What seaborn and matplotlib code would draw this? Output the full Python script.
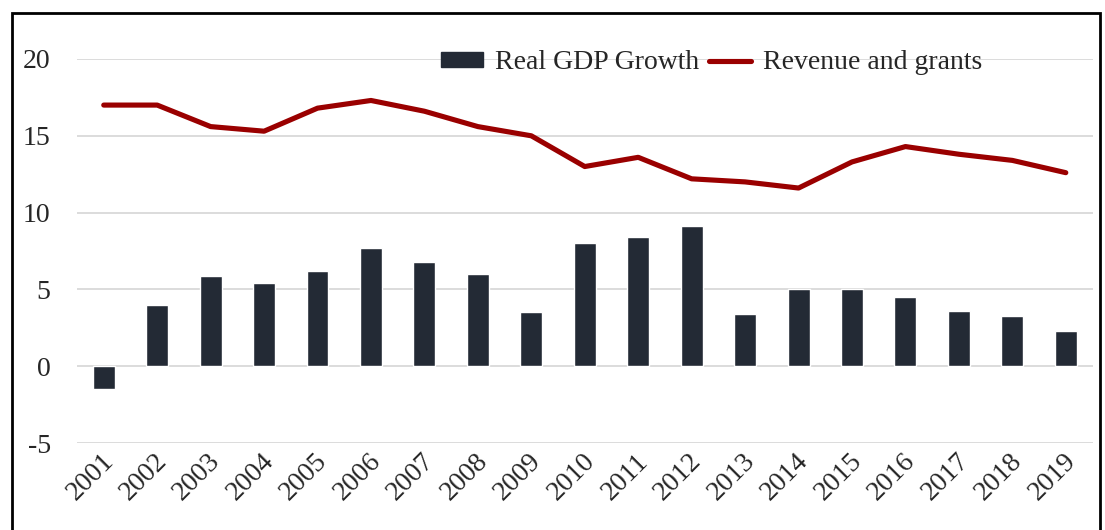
import pandas as pd
import seaborn as sns
import matplotlib.pyplot as plt
from matplotlib.patches import Rectangle, Patch
from matplotlib.lines import Line2D
import matplotlib.transforms as mtransforms

# Chart values
years = [str(y) for y in range(2001, 2020)]
gdp_growth = [-1.5, 4.0, 5.9, 5.4, 6.2, 7.7, 6.8, 6.0, 3.5, 8.0,
              8.4, 9.1, 3.4, 5.0, 5.0, 4.5, 3.6, 3.3, 2.3]
revenue_grants = [17.0, 17.0, 15.6, 15.3, 16.8, 17.3, 16.6, 15.6, 15.0, 13.0,
                  13.6, 12.2, 12.0, 11.6, 13.3, 14.3, 13.8, 13.4, 12.6]
yticks = [-5, 0, 5, 10, 15, 20]

df = pd.DataFrame({"year": years, "gdp": gdp_growth, "rev": revenue_grants})

bar_color = "#232a35"
line_color = "#9a0000"

sns.set_style("white")
plt.rcParams["font.family"] = ["Liberation Serif", "DejaVu Serif"]

fig = plt.figure(figsize=(11.05, 5.3), dpi=100)
ax = fig.add_axes([0.0697, 0.164, 0.919, 0.7247])

sns.barplot(data=df, x="year", y="gdp", color=bar_color, width=0.41,
            saturation=1, ax=ax, zorder=2)
sns.lineplot(data=df, x="year", y="rev", color=line_color, linewidth=3.7,
             ax=ax, zorder=3, solid_capstyle="round", solid_joinstyle="round")

ax.set_xlim(-0.5, len(years) - 0.5)
ax.set_ylim(-5, 20)
ax.set_yticks(yticks)
ax.set_yticklabels([str(t) for t in yticks])
ax.yaxis.grid(True, color="#d9d9d9", linewidth=1.3, zorder=0)
ax.set_axisbelow(True)
for s in ax.spines.values():
    s.set_visible(False)
ax.set_xlabel("")
ax.set_ylabel("")
ax.tick_params(axis="y", length=0, pad=19, labelsize=20)
ax.tick_params(axis="x", length=0, pad=4, labelsize=20)

offset = mtransforms.ScaledTranslation(-2 / 72, 0, fig.dpi_scale_trans)
for lbl in ax.get_xticklabels():
    lbl.set_rotation(45)
    lbl.set_ha("right")
    lbl.set_va("top")
    lbl.set_rotation_mode("anchor")
    lbl.set_transform(lbl.get_transform() + offset)

handles = [Patch(facecolor=bar_color, edgecolor=bar_color),
           Line2D([0], [0], color=line_color, linewidth=3.7, solid_capstyle="round")]
leg = ax.legend(handles, ["Real GDP Growth", "Revenue and grants"], ncol=2,
                frameon=False, fontsize=20, loc="center",
                bbox_to_anchor=(0.625, 0.99), handlelength=1.5,
                handleheight=0.45, handletextpad=0.45, columnspacing=0.35)

# outer frame (bottom edge falls outside the picture)
fig.patches.append(Rectangle((12 / 1105, -0.05), 1088 / 1105, 1.05 - 13 / 530,
                             transform=fig.transFigure, fill=False,
                             edgecolor="black", linewidth=2.0))

fig.savefig("out.png", dpi=100)
